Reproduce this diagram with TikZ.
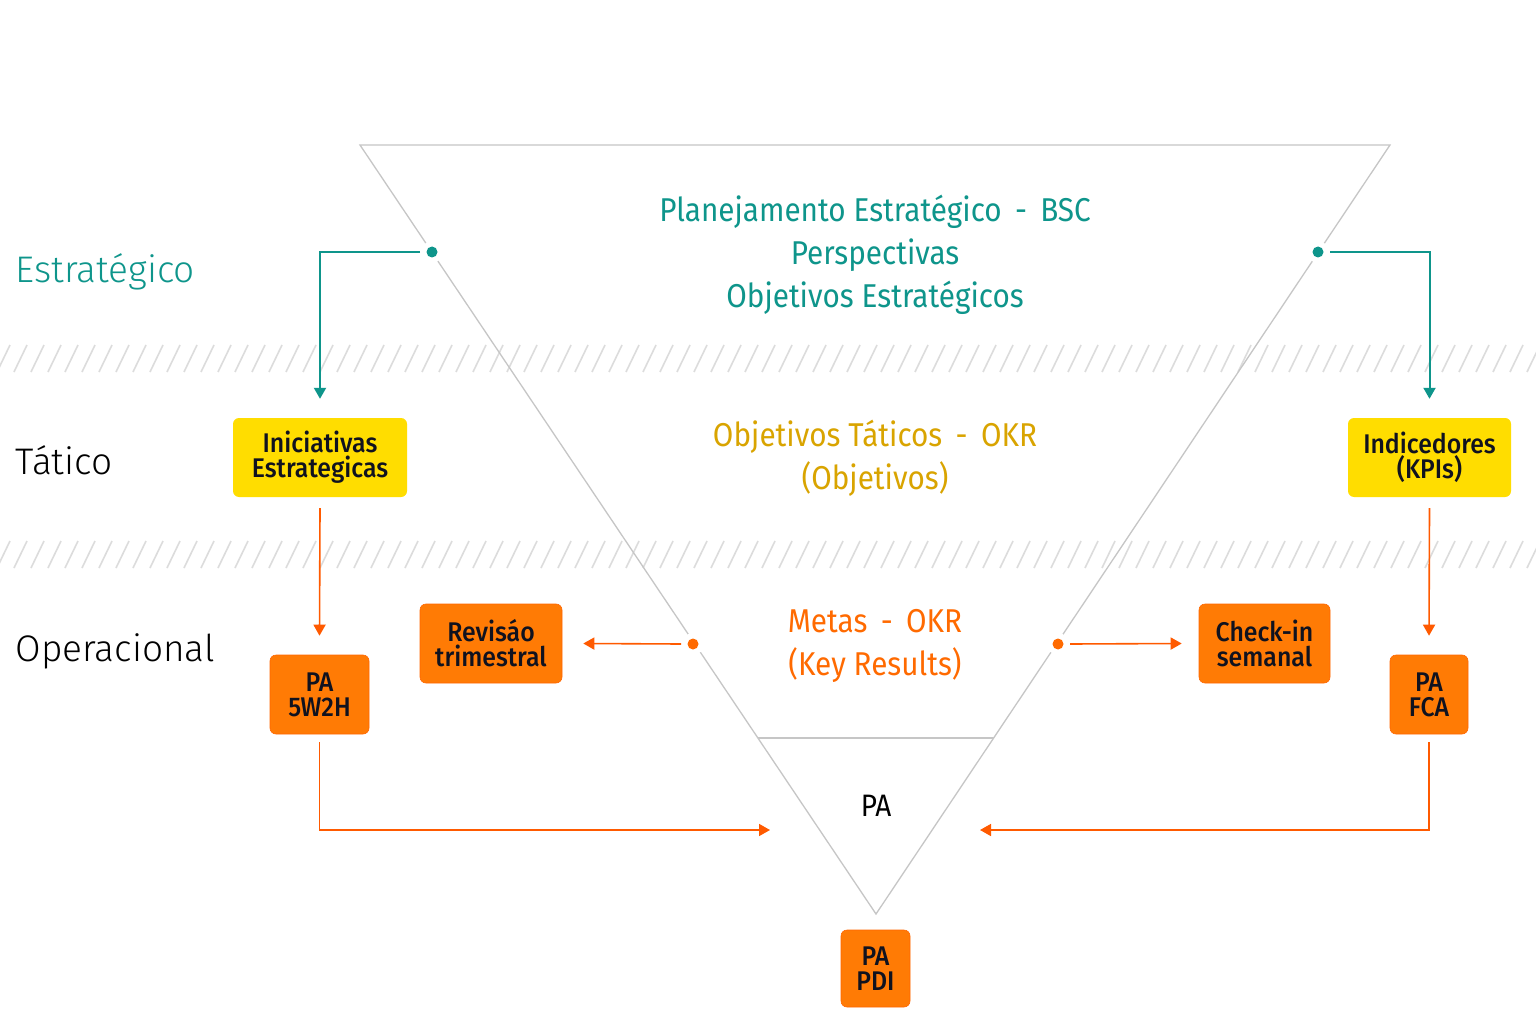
\documentclass[tikz,border=0pt]{standalone}
\usepackage{fontspec}
\setmainfont{Fira Sans}
\newfontfamily\mainf[FakeStretch=0.9]{Fira Sans}
\newfontfamily\boxf[FakeStretch=0.92]{Fira Sans Medium}
\newfontfamily\lightf{Fira Sans Light}
\usetikzlibrary{arrows.meta}
\definecolor{teal1}{HTML}{0E958B}
\definecolor{gold1}{HTML}{D9A400}
\definecolor{orng}{HTML}{FF6A00}
\definecolor{orline}{HTML}{FF5A00}
\definecolor{boxor}{HTML}{FF7B05}
\definecolor{boxyel}{HTML}{FFDD00}
\definecolor{navy}{HTML}{10121F}
\definecolor{tri}{HTML}{C6C6C6}
\definecolor{hatch}{HTML}{DCDCDC}
\tikzset{
  box/.style={rounded corners=6pt, align=center, text=navy, inner sep=0pt,
    font=\boxf\fontsize{27}{25}\selectfont},
  ybox/.style={box, fill=boxyel},
  obox/.style={box, fill=boxor, draw=orline!60!boxor, line width=0.6pt},
  tline/.style={teal1, line width=2pt, -{Triangle[length=11pt,width=12pt]}},
  oline/.style={orline, line width=1.6pt, -{Triangle[length=11pt,width=12pt]}},
  ctext/.style={align=center, font=\mainf\fontsize{33}{43}\selectfont},
  side/.style={anchor=base west, font=\lightf\fontsize{37}{37}\selectfont},
  hatchline/.style={hatch, line width=1.6pt},
}
\begin{document}
\begin{tikzpicture}[x=1pt,y=-1pt]
\useasboundingbox[fill=white] (0,0) rectangle (1536,1024);
% hatched bands
\foreach \x in {-20,-3,...,1550} {
  \draw[hatchline] (\x,372) -- (\x+13,345);
  \draw[hatchline] (\x,568) -- (\x+13,541);
}
% triangle
\coordinate (TL) at (360,145);
\coordinate (TR) at (1390,145);
\coordinate (AP) at (876,914);
\draw[tri, line width=1.3pt, line join=miter] (TL) -- (TR) -- (AP) -- cycle;
\draw[tri, line width=2pt] (758,738) -- (994,738);
% dots with white gaps
\foreach \n/\p/\c in {dl/{(432,252)}/teal1, dr/{(1318,252)}/teal1, ml/{(693,644)}/orng, mr/{(1058,644)}/orng} {
  \fill[white] \p circle (11pt);
  \fill[\c] \p circle (5.5pt);
}
\coordinate (dl) at (420,252);
\coordinate (dr) at (1330,252);
\coordinate (ml) at (681,644);
\coordinate (mr) at (1070,644);
% center texts
\node[ctext, text=teal1] (bsc) at (875,255) {Planejamento Estratégico\, -\, BSC\\Perspectivas\\Objetivos Estratégicos};
\node[ctext, text=gold1] (okr) at (875,458) {Objetivos Táticos\, -\, OKR\\(Objetivos)};
\node[ctext, text=orng] (kr) at (875,646) {Metas\, -\, OKR\\(Key Results)};
\node[font=\mainf\fontsize{31}{31}\selectfont, text=black] (pa) at (876,806) {PA};
% side labels
\node[side, text=teal1] (est) at (12,283) {Estratégico};
\node[side, text=black] (tat) at (12,474) {Tático};
\node[side, text=black] (ope) at (12,661) {Operacional};
% boxes
\node[ybox, minimum width=174pt, minimum height=79pt] (ini) at (320,457.5) {Iniciativas\\Estrategicas};
\node[ybox, minimum width=163pt, minimum height=79pt] (kpi) at (1429.5,457.5) {Indicedores\\(KPIs)};
\node[obox, minimum width=99pt, minimum height=79pt] (w2h) at (319.5,694.5) {PA\\5W2H};
\node[obox, minimum width=142pt, minimum height=79pt] (rev) at (491,643.5) {Revisáo\\trimestral};
\node[obox, minimum width=131pt, minimum height=79pt] (chk) at (1264.5,643.5) {Check-in\\semanal};
\node[obox, minimum width=78pt, minimum height=79pt] (fca) at (1429,694.5) {PA\\FCA};
\node[obox, minimum width=69pt, minimum height=77pt] (pdi) at (875.5,968.5) {PA\\PDI};
% connectors
\draw[tline] (dl) -| ([yshift=19pt]ini.north);
\draw[tline] (dr) -| ([yshift=19pt]kpi.north);
\draw[oline] ([yshift=-11pt]ini.south) -- ([yshift=19pt]w2h.north);
\draw[oline] ([yshift=-11pt]kpi.south) -- ([yshift=19pt]fca.north);
\coordinate (inl) at (770,830);
\coordinate (inr) at (980,830);
\draw[oline] ([yshift=-8pt]w2h.south) |- (inl);
\draw[oline] ([yshift=-8pt]fca.south) |- (inr);
\draw[oline] (ml) -- ([xshift=21pt]rev.east);
\draw[oline] (mr) -- ([xshift=-17pt]chk.west);
\end{tikzpicture}
\end{document}
